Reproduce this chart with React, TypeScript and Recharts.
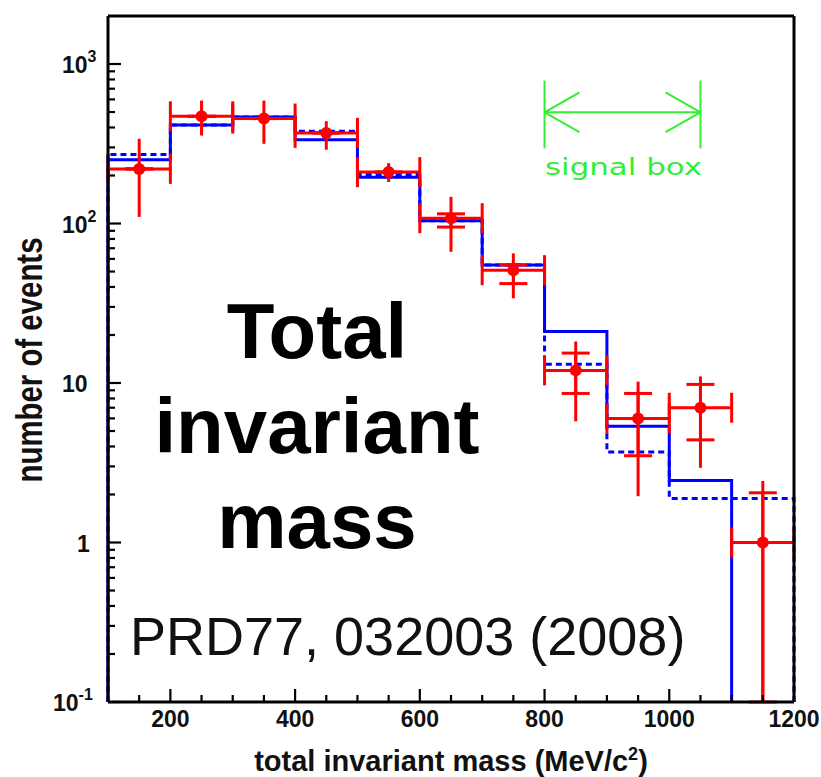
import React from 'react';
import { ComposedChart, Line, Scatter, ErrorBar, XAxis, YAxis, ReferenceLine } from 'recharts';

// histogram bins (MeV/c^2)
const binEdges = [100, 200, 300, 400, 500, 600, 700, 800, 900, 1000, 1100, 1200];
const binCenters = [150, 250, 350, 450, 550, 650, 750, 850, 950, 1050, 1150];

// data points with outer (total) and inner (statistical) error ends
const dataCounts = [220, 470, 455, 370, 210, 108, 51, 12, 6, 7, 1];
const dataHigh = [340, 590, 590, 438, 239, 147, 65, 18.2, 10.2, 11, 2.43];
const dataLow = [110, 356, 316, 290, 182, 66.5, 34, 5.75, 1.95, 2.94, 0.1];
const statHigh = [null, null, null, null, null, 115, 55, 15.4, 8.6, 9.8, 2.05];
const statLow = [null, null, null, null, null, 95, 42, 8.6, 3.5, 4.4, 0.1];

// MC expectations (0 = empty bin)
const mcSolid = [251, 415, 465, 335, 195, 104, 55, 21, 5.35, 2.45, 0];
const mcDashed = [271, 415, 465, 379, 203, 104, 55, 13.1, 3.7, 1.89, 1.89];

const xTicks = [150, 200, 250, 300, 350, 400, 450, 500, 550, 600, 650, 700, 750, 800, 850, 900, 950, 1000, 1050, 1100, 1150, 1200];
const yMajorTicks = [0.1, 1, 10, 100, 1000];
const yMinorSteps = [2, 3, 4, 5, 6, 7, 8, 9];

const X_DOMAIN = [100, 1200];
const Y_DOMAIN = [0.1, 2000];

// signal box annotation
const signalBox = [800, 1050];
const signalY = 498;
const signalBarTop = 787;
const signalBarBottom = 296;
const arrowHeadLen = 56;
const arrowHeadUp = 665;
const arrowHeadDown = 374;

const RED = '#ff0000';
const BLUE = '#0000ff';
const GREEN = '#33ee33';
const FONT = '"Liberation Sans", Arial, Helvetica, sans-serif';

const yTicks = [
  ...yMajorTicks,
  ...yMajorTicks.slice(0, 4).flatMap((d) => yMinorSteps.map((m) => d * m)),
].sort((a, b) => a - b);

const stepPoints = (vals: number[]) => {
  const floor = Y_DOMAIN[0];
  let last = vals.length - 1;
  while (last > 0 && !(vals[last] > 0)) last--;
  const pts = [{ x: binEdges[0], y: floor }];
  for (let i = 0; i <= last; i++) pts.push({ x: binEdges[i], y: vals[i] > 0 ? vals[i] : floor });
  pts.push({ x: binEdges[last + 1], y: floor });
  return pts;
};

const solidPts = stepPoints(mcSolid);
const dashedPts = stepPoints(mcDashed);

const points = binCenters.map((c, i) => {
  const v = dataCounts[i];
  const sh = statHigh[i] ?? v;
  const sl = statLow[i] ?? v;
  return {
    x: c,
    y: v,
    ex: 50,
    ey: [v - dataLow[i], dataHigh[i] - v],
    es: [v - sl, sh - v],
  };
});

const isMajorY = (v: number) => Math.abs(Math.log10(v) - Math.round(Math.log10(v))) < 1e-6;

const AxisTick = (props: any) => {
  const { x, y, payload, side } = props;
  const v = payload.value;
  const major = side === 'bottom' || side === 'top' ? v % 200 === 0 : isMajorY(v);
  const len = major ? 13 : 7;
  let line;
  if (side === 'bottom') line = <line x1={x} y1={y} x2={x} y2={y - len} />;
  else if (side === 'top') line = <line x1={x} y1={y} x2={x} y2={y + len} />;
  else if (side === 'left') line = <line x1={x} y1={y} x2={x + len} y2={y} />;
  else line = <line x1={x} y1={y} x2={x - len} y2={y} />;

  let label = null;
  if (side === 'bottom' && major) {
    label = (
      <text x={x} y={y + 25} textAnchor="middle" fontSize={23} fontWeight="bold" fontFamily={FONT} fill="#111" stroke="none">
        {v}
      </text>
    );
  }
  if (side === 'left' && major) {
    const e = Math.round(Math.log10(v));
    const start = e === 0 ? x - 31 : e < 0 ? x - 55 : x - 46;
    label = (
      <text x={start} y={y + 9} fontSize={23} fontWeight="bold" fontFamily={FONT} fill="#111" stroke="none">
        {e === 0 ? '1' : '10'}
        {e !== 0 && e !== 1 && (
          <tspan fontSize={16} dy={-11}>
            {e}
          </tspan>
        )}
      </text>
    );
  }
  return (
    <g stroke="#000" strokeWidth={2.2}>
      {line}
      {label}
    </g>
  );
};

export default function App() {
  return (
    <div style={{ position: 'absolute', left: 0, top: 0, width: 821, height: 777, background: '#fff' }}>
      <ComposedChart width={821} height={777} margin={{ top: 6, right: 17, bottom: 45, left: 48 }}>
        <XAxis
          type="number"
          dataKey="x"
          domain={X_DOMAIN}
          ticks={xTicks}
          interval={0}
          height={30}
          tickSize={0}
          tickMargin={0}
          tickLine={false}
          axisLine={{ stroke: '#000', strokeWidth: 3 }}
          tick={(p: any) => <AxisTick {...p} side="bottom" />}
        />
        <XAxis
          xAxisId="top"
          orientation="top"
          type="number"
          domain={X_DOMAIN}
          ticks={xTicks}
          interval={0}
          height={10}
          tickSize={0}
          tickMargin={0}
          tickLine={false}
          axisLine={{ stroke: '#000', strokeWidth: 3 }}
          tick={(p: any) => <AxisTick {...p} side="top" />}
        />
        <YAxis
          type="number"
          dataKey="y"
          scale="log"
          domain={Y_DOMAIN}
          ticks={yTicks}
          interval={0}
          width={60}
          tickSize={0}
          tickMargin={0}
          tickLine={false}
          axisLine={{ stroke: '#000', strokeWidth: 3 }}
          tick={(p: any) => <AxisTick {...p} side="left" />}
        />
        <YAxis
          yAxisId="right"
          orientation="right"
          type="number"
          scale="log"
          domain={Y_DOMAIN}
          ticks={yTicks}
          interval={0}
          width={10}
          tickSize={0}
          tickMargin={0}
          tickLine={false}
          axisLine={{ stroke: '#000', strokeWidth: 3 }}
          tick={(p: any) => <AxisTick {...p} side="right" />}
        />
        <Line
          data={dashedPts}
          dataKey="y"
          type="stepAfter"
          stroke={BLUE}
          strokeWidth={3}
          strokeDasharray="6 4"
          dot={false}
          activeDot={false}
          isAnimationActive={false}
        />
        <Line
          data={solidPts}
          dataKey="y"
          type="stepAfter"
          stroke={BLUE}
          strokeWidth={3}
          dot={false}
          activeDot={false}
          isAnimationActive={false}
        />
        <Scatter
          data={points}
          dataKey="y"
          isAnimationActive={false}
          shape={(p: any) => <circle cx={p.cx} cy={p.cy} r={6} fill={RED} />}
        >
          <ErrorBar dataKey="ex" direction="x" width={15} stroke={RED} strokeWidth={3} isAnimationActive={false} />
          <ErrorBar dataKey="ey" direction="y" width={0} stroke={RED} strokeWidth={3} isAnimationActive={false} />
          <ErrorBar dataKey="es" direction="y" width={14} stroke={RED} strokeWidth={3} isAnimationActive={false} />
        </Scatter>
        <ReferenceLine segment={[{ x: signalBox[0], y: signalY }, { x: signalBox[1], y: signalY }]} stroke={GREEN} strokeWidth={2} />
        <ReferenceLine segment={[{ x: signalBox[0], y: signalBarTop }, { x: signalBox[0], y: signalBarBottom }]} stroke={GREEN} strokeWidth={2} />
        <ReferenceLine segment={[{ x: signalBox[1], y: signalBarTop }, { x: signalBox[1], y: signalBarBottom }]} stroke={GREEN} strokeWidth={2} />
        <ReferenceLine segment={[{ x: signalBox[0], y: signalY }, { x: signalBox[0] + arrowHeadLen, y: arrowHeadUp }]} stroke={GREEN} strokeWidth={2} />
        <ReferenceLine segment={[{ x: signalBox[0], y: signalY }, { x: signalBox[0] + arrowHeadLen, y: arrowHeadDown }]} stroke={GREEN} strokeWidth={2} />
        <ReferenceLine segment={[{ x: signalBox[1], y: signalY }, { x: signalBox[1] - arrowHeadLen, y: arrowHeadUp }]} stroke={GREEN} strokeWidth={2} />
        <ReferenceLine segment={[{ x: signalBox[1], y: signalY }, { x: signalBox[1] - arrowHeadLen, y: arrowHeadDown }]} stroke={GREEN} strokeWidth={2} />
      </ComposedChart>
      <svg width={821} height={777} style={{ position: 'absolute', left: 0, top: 0, pointerEvents: 'none' }}>
        <g fontFamily={FONT} fontWeight="bold" fill="#000" textAnchor="middle" fontSize={78}>
          <text x={317} y={358}>Total</text>
          <text x={317} y={453}>invariant</text>
          <text x={317} y={548}>mass</text>
        </g>
        <text x={130} y={655} fontFamily={FONT} fontSize={54} fill="#111">
          PRD77, 032003 (2008)
        </text>
        <text
          x={42}
          y={360}
          transform="rotate(-90, 42, 360)"
          textAnchor="middle"
          fontFamily={FONT}
          fontWeight="bold"
          fontSize={36}
          textLength={245}
          lengthAdjust="spacingAndGlyphs"
          fill="#111"
        >
          number of events
        </text>
        <text x={451} y={771} textAnchor="middle" fontFamily={FONT} fontWeight="bold" fontSize={29} fill="#111">
          total invariant mass (MeV/c
          <tspan fontSize={18} dy={-11}>2</tspan>
          <tspan dy={11}>)</tspan>
        </text>
        <text
          x={545}
          y={175}
          fontFamily='"DejaVu Sans", sans-serif'
          fontSize={23}
          textLength={157}
          lengthAdjust="spacingAndGlyphs"
          fill={GREEN}
        >
          signal box
        </text>
      </svg>
    </div>
  );
}
